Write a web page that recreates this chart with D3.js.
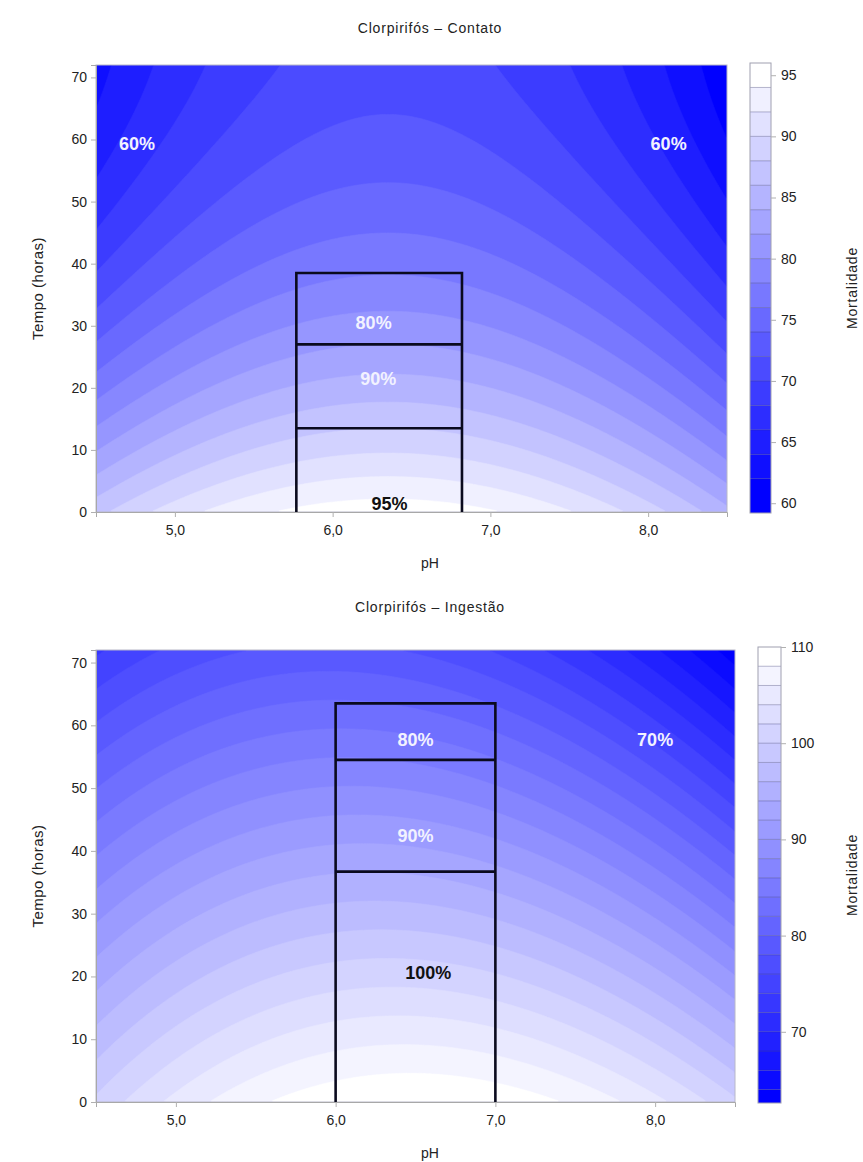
<!DOCTYPE html>
<html>
<head>
<meta charset="utf-8">
<script src="https://cdn.jsdelivr.net/npm/d3@7"></script>
<style>
  body { margin: 0; background: #fff; }
  text { font-family: "Liberation Sans", Arial, sans-serif; fill: #222; }
</style>
</head>
<body>
<svg id="chart" width="863" height="1162"></svg>
<script>
// Fitted response surfaces, terms: [1, pH, t, pH², t², pH·t]
const contatoCoef  = [2.458, 29.21, -0.58, -2.3, 0.0034, 0];
const ingestaoCoef = [8.6, 31.2, -0.1904, -2.4, -0.00015, -0.038];

const pHDomain = [4.5, 8.5];
const tempoDomain = [0, 72];
const pHTicks = [5, 6, 7, 8];
const tempoTicks = [0, 10, 20, 30, 40, 50, 60, 70];

// Mortality range and contour levels of each map
const contatoRange = [59.2, 96];
const contatoLevels = d3.range(62, 95, 2);
const contatoLegendTicks = [60, 65, 70, 75, 80, 85, 90, 95];
const ingestaoRange = [62.6, 110];
const ingestaoLevels = d3.range(64, 109, 2);
const ingestaoLegendTicks = [70, 80, 90, 100, 110];

// Optimum-zone boxes (pH span, time cuts)
const contatoBoxPH = [5.77, 6.82];
const contatoBoxTempo = [0, 13.5, 27, 38.5];
const ingestaoBoxPH = [6.0, 7.0];
const ingestaoBoxTempo = [0, 36.7, 54.5, 63.5];

// Annotations
const contatoNotes = [
  { text: "60%", pH: 4.76, t: 59.3, dark: false },
  { text: "60%", pH: 8.13, t: 59.3, dark: false },
  { text: "80%", pH: 6.26, t: 30.4, dark: false },
  { text: "90%", pH: 6.29, t: 21.4, dark: false },
  { text: "95%", pH: 6.36, t: 1.3, dark: true }
];
const ingestaoNotes = [
  { text: "80%", pH: 6.5, t: 57.6, dark: false },
  { text: "90%", pH: 6.5, t: 42.3, dark: false },
  { text: "100%", pH: 6.58, t: 20.6, dark: true },
  { text: "70%", pH: 8.0, t: 57.6, dark: false }
];

const svg = d3.select("#chart");

function surface(c, pH, t) {
  return c[0] + c[1] * pH + c[2] * t + c[3] * pH * pH + c[4] * t * t + c[5] * pH * t;
}

function drawMap(cfg) {
  const g = svg.append("g");
  const x = d3.scaleLinear().domain(pHDomain).range([cfg.left, cfg.right]);
  const y = d3.scaleLinear().domain(tempoDomain).range([cfg.bottom, cfg.top]);

  const nBands = cfg.levels.length + 1;
  const bandColor = k => d3.interpolateRgb("#0000ff", "#ffffff")(k / (nBands - 1));

  const clipId = "clip-" + cfg.id;
  g.append("clipPath").attr("id", clipId)
    .append("rect")
    .attr("x", cfg.left).attr("y", cfg.top)
    .attr("width", cfg.right - cfg.left).attr("height", cfg.bottom - cfg.top);

  // sample the surface on a fine grid
  const nx = 240, ny = 200;
  const dpH = (pHDomain[1] - pHDomain[0]) / nx;
  const dT = (tempoDomain[1] - tempoDomain[0]) / ny;
  const values = new Float64Array(nx * ny);
  for (let j = 0; j < ny; j++) {
    for (let i = 0; i < nx; i++) {
      values[j * nx + i] = surface(cfg.coef, pHDomain[0] + (i + 0.5) * dpH, tempoDomain[0] + (j + 0.5) * dT);
    }
  }
  const contours = d3.contours().size([nx, ny]).thresholds(cfg.levels)(values);
  const path = d3.geoPath(d3.geoTransform({
    point(gx, gy) {
      this.stream.point(x(pHDomain[0] + gx * dpH), y(tempoDomain[0] + gy * dT));
    }
  }));

  const plot = g.append("g").attr("clip-path", `url(#${clipId})`);
  plot.append("rect")
    .attr("x", cfg.left).attr("y", cfg.top)
    .attr("width", cfg.right - cfg.left).attr("height", cfg.bottom - cfg.top)
    .attr("fill", bandColor(0));
  plot.selectAll("path.band").data(contours).join("path")
    .attr("class", "band")
    .attr("d", path)
    .attr("fill", (d, k) => bandColor(k + 1))
    .attr("stroke", (d, k) => bandColor(k + 1))
    .attr("stroke-width", 0.6);

  // frame
  g.append("rect")
    .attr("x", cfg.left).attr("y", cfg.top)
    .attr("width", cfg.right - cfg.left).attr("height", cfg.bottom - cfg.top)
    .attr("fill", "none").attr("stroke", "#b8b8c8").attr("stroke-width", 1);

  // optimum boxes
  const bx0 = x(cfg.boxPH[0]), bx1 = x(cfg.boxPH[1]);
  const topT = cfg.boxTempo[cfg.boxTempo.length - 1];
  const box = g.append("g").attr("stroke", "#0a0a1e").attr("stroke-width", 2.6).attr("fill", "none");
  box.append("path")
    .attr("d", `M${bx0},${y(cfg.boxTempo[0])}V${y(topT)}H${bx1}V${y(cfg.boxTempo[0])}`);
  box.selectAll("line.cut").data(cfg.boxTempo.slice(1, -1)).join("line")
    .attr("class", "cut")
    .attr("x1", bx0).attr("x2", bx1)
    .attr("y1", d => y(d)).attr("y2", d => y(d));

  // axes
  const xAxis = g.append("g").attr("transform", `translate(0,${cfg.bottom})`)
    .call(d3.axisBottom(x).tickValues(pHTicks).tickSize(5).tickPadding(8)
      .tickFormat(d => d3.format(".1f")(d).replace(".", ",")));
  const yAxis = g.append("g").attr("transform", `translate(${cfg.left},0)`)
    .call(d3.axisLeft(y).tickValues(tempoTicks).tickSize(5).tickPadding(4));
  [xAxis, yAxis].forEach(a => {
    a.select(".domain").attr("stroke", "#a8a8a8");
    a.selectAll(".tick line").attr("stroke", "#b0b0b0");
    a.selectAll(".tick text").attr("font-size", 14).attr("fill", "#333")
      .attr("font-family", "'Liberation Sans', Arial, sans-serif");
  });

  // titles
  g.append("text").attr("x", 430).attr("y", cfg.titleY)
    .attr("text-anchor", "middle").attr("font-size", 14).attr("letter-spacing", 0.8)
    .text(cfg.title);
  g.append("text").attr("x", 430).attr("y", cfg.bottom + 56)
    .attr("text-anchor", "middle").attr("font-size", 14).text("pH");
  g.append("text")
    .attr("transform", `translate(43,${(cfg.top + cfg.bottom) / 2}) rotate(-90)`)
    .attr("text-anchor", "middle").attr("font-size", 15).attr("letter-spacing", 0.5)
    .text("Tempo (horas)");

  // annotations
  g.selectAll("text.note").data(cfg.notes).join("text")
    .attr("class", "note")
    .attr("x", d => x(d.pH)).attr("y", d => y(d.t))
    .attr("text-anchor", "middle").attr("dominant-baseline", "central")
    .attr("font-size", 18).attr("font-weight", "bold")
    .style("fill", d => d.dark ? "#111" : "#f2f2ff")
    .text(d => d.text);

  // colour legend
  const ly = d3.scaleLinear().domain(cfg.range).range([cfg.legBottom, cfg.legTop]);
  const edges = [cfg.range[0], ...cfg.levels, cfg.range[1]];
  const leg = g.append("g");
  leg.selectAll("rect.key").data(d3.range(nBands)).join("rect")
    .attr("class", "key")
    .attr("x", cfg.legX).attr("width", cfg.legW)
    .attr("y", k => ly(edges[k + 1])).attr("height", k => ly(edges[k]) - ly(edges[k + 1]))
    .attr("fill", k => bandColor(k));
  leg.selectAll("line.sep").data(cfg.levels).join("line")
    .attr("class", "sep")
    .attr("x1", cfg.legX).attr("x2", cfg.legX + cfg.legW)
    .attr("y1", d => ly(d)).attr("y2", d => ly(d))
    .attr("stroke", "rgba(50,50,110,0.35)").attr("stroke-width", 1);
  leg.append("rect")
    .attr("x", cfg.legX).attr("y", cfg.legTop)
    .attr("width", cfg.legW).attr("height", cfg.legBottom - cfg.legTop)
    .attr("fill", "none").attr("stroke", "#a0a0b0");
  const legAxis = leg.append("g").attr("transform", `translate(${cfg.legX + cfg.legW},0)`)
    .call(d3.axisRight(ly).tickValues(cfg.legendTicks).tickSize(5).tickPadding(5));
  legAxis.select(".domain").remove();
  legAxis.selectAll(".tick line").attr("stroke", "#b0b0b0");
  legAxis.selectAll(".tick text").attr("font-size", 14).attr("fill", "#333")
    .attr("font-family", "'Liberation Sans', Arial, sans-serif");
  leg.append("text")
    .attr("transform", `translate(857,${(cfg.legTop + cfg.legBottom) / 2}) rotate(-90)`)
    .attr("text-anchor", "middle").attr("font-size", 14).attr("letter-spacing", 0.8)
    .text("Mortalidade");
}

drawMap({
  id: "contato", title: "Clorpirifós – Contato", titleY: 33,
  coef: contatoCoef, levels: contatoLevels, range: contatoRange,
  legendTicks: contatoLegendTicks,
  left: 96, right: 727, top: 65, bottom: 512,
  boxPH: contatoBoxPH, boxTempo: contatoBoxTempo, notes: contatoNotes,
  legX: 750, legW: 21, legTop: 63, legBottom: 513
});

drawMap({
  id: "ingestao", title: "Clorpirifós – Ingestão", titleY: 612,
  coef: ingestaoCoef, levels: ingestaoLevels, range: ingestaoRange,
  legendTicks: ingestaoLegendTicks,
  left: 96, right: 735, top: 650, bottom: 1102,
  boxPH: ingestaoBoxPH, boxTempo: ingestaoBoxTempo, notes: ingestaoNotes,
  legX: 758, legW: 23, legTop: 647, legBottom: 1103
});
</script>
</body>
</html>
